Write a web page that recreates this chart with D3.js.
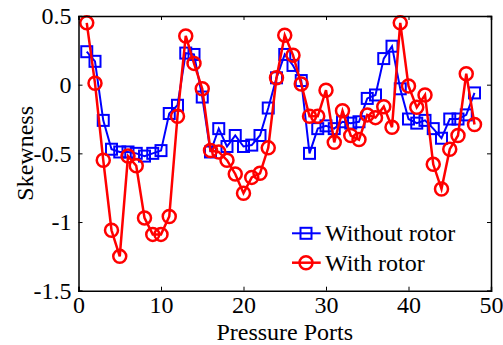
<!DOCTYPE html>
<html><head><meta charset="utf-8">
<script src="https://cdn.jsdelivr.net/npm/d3@7"></script>
<style>body{margin:0;background:#fff}svg{display:block}svg text{font-family:"Liberation Serif","Times New Roman",serif !important}</style>
</head><body>
<script>
const ports = d3.range(1, 49);
const withoutRotor = [0.24,0.17,-0.26,-0.47,-0.49,-0.49,-0.50,-0.52,-0.50,-0.48,
  -0.21,-0.15,0.23,0.22,-0.09,-0.49,-0.32,-0.45,-0.37,-0.45,
  -0.44,-0.37,-0.17,0.05,0.22,0.14,0.03,-0.50,-0.32,-0.30,
  -0.32,-0.27,-0.28,-0.27,-0.10,-0.075,0.19,0.28,-0.03,-0.25,
  -0.28,-0.26,-0.32,-0.39,-0.25,-0.25,-0.22,-0.06];
const withRotor = [0.45,0.01,-0.55,-1.06,-1.25,-0.52,-0.59,-0.97,-1.09,-1.09,
  -0.96,-0.23,0.355,0.155,-0.03,-0.48,-0.49,-0.55,-0.65,-0.79,
  -0.675,-0.645,-0.46,0.05,0.36,0.215,0.005,-0.23,-0.23,-0.04,
  -0.42,-0.19,-0.37,-0.40,-0.22,-0.24,-0.16,-0.31,0.45,-0.01,
  -0.165,-0.075,-0.58,-0.76,-0.47,-0.37,0.08,-0.29];
const xTicks = [0,10,20,30,40,50];
const yTicks = [-1.5,-1,-0.5,0,0.5];
const seriesNames = ["Without rotor","With rotor"];

const W=503,H=345, m={l:78.5,r:12,t:16,b:54.3};
const svg=d3.select("body").append("svg").attr("width",W).attr("height",H);
const x=d3.scaleLinear().domain([0,50]).range([m.l,W-m.r]);
const y=d3.scaleLinear().domain([-1.5,0.5]).range([H-m.b,m.t]);

const g=svg.append("g");
const line=d3.line().x((d,i)=>x(ports[i])).y(d=>y(d));
const blue="#0000ff", red="#ff0000";
g.append("path").datum(withoutRotor).attr("d",line).attr("fill","none").attr("stroke",blue).attr("stroke-width",2);
g.selectAll("rect.sq").data(withoutRotor).enter().append("rect").attr("class","sq")
 .attr("x",(d,i)=>x(ports[i])-5.5).attr("y",d=>y(d)-5.5).attr("width",11).attr("height",11)
 .attr("fill","none").attr("stroke",blue).attr("stroke-width",2);
g.append("path").datum(withRotor).attr("d",line).attr("fill","none").attr("stroke",red).attr("stroke-width",2.5);
g.selectAll("circle.c").data(withRotor).enter().append("circle").attr("class","c")
 .attr("cx",(d,i)=>x(ports[i])).attr("cy",d=>y(d)).attr("r",6.5)
 .attr("fill","none").attr("stroke",red).attr("stroke-width",2.5);

const fs=24;
const xb=svg.append("g").attr("transform",`translate(0,${H-m.b})`)
 .call(d3.axisBottom(x).tickValues(xTicks).tickSize(-4).tickPadding(0).tickFormat(d3.format("d")));
const xt=svg.append("g").attr("transform",`translate(0,${m.t})`)
 .call(d3.axisTop(x).tickValues(xTicks).tickSize(-4).tickFormat(""));
const yl=svg.append("g").attr("transform",`translate(${m.l},0)`)
 .call(d3.axisLeft(y).tickValues(yTicks).tickSize(-4).tickPadding(7).tickFormat(d=>d===0?"0":String(d)));
const yr=svg.append("g").attr("transform",`translate(${W-m.r},0)`)
 .call(d3.axisRight(y).tickValues(yTicks).tickSize(-4).tickFormat(""));
[xb,xt,yl,yr].forEach(a=>{a.attr("font-family",null);
 a.select(".domain").attr("stroke","#000").attr("stroke-width",1.5);
 a.selectAll(".tick line").attr("stroke","#000").attr("stroke-width",1);
 a.selectAll("text").attr("font-size",fs).attr("fill","#000");});
xb.selectAll("text").attr("y",22.5).attr("dy","0");

svg.append("text").attr("x",x(25)).attr("y",340).attr("text-anchor","middle").attr("font-size",fs).text("Pressure Ports");
svg.append("text").attr("transform",`translate(33,${y(-0.5)}) rotate(-90)`).attr("text-anchor","middle").attr("font-size",fs).text("Skewness");

const lg=svg.append("g");
const items=[{n:seriesNames[0],c:blue,s:"sq",yy:233.3},{n:seriesNames[1],c:red,s:"c",yy:262.7}];
items.forEach(it=>{
  lg.append("line").attr("x1",292).attr("x2",320.7).attr("y1",it.yy).attr("y2",it.yy).attr("stroke",it.c).attr("stroke-width",it.s==="sq"?2:2.5);
  if(it.s==="sq") lg.append("rect").attr("x",306-5.5).attr("y",it.yy-5.5).attr("width",11).attr("height",11).attr("fill","none").attr("stroke",it.c).attr("stroke-width",2);
  else lg.append("circle").attr("cx",306).attr("cy",it.yy).attr("r",6.5).attr("fill","none").attr("stroke",it.c).attr("stroke-width",2.5);
  lg.append("text").attr("x",325).attr("y",it.yy).attr("dy","0.33em").attr("font-size",fs).text(it.n);
});
</script>
</body></html>
